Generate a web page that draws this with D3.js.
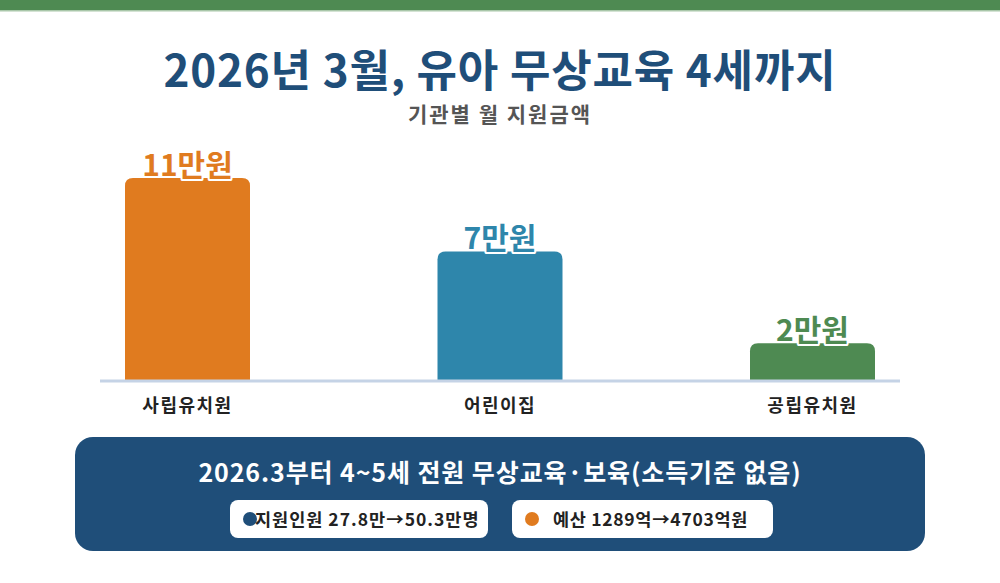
<!DOCTYPE html>
<html>
<head>
<meta charset="utf-8">
<script src="https://cdn.jsdelivr.net/npm/d3@7"></script>
<style>
  body { margin: 0; background: #fff; }
  svg { display: block; font-family: "Noto Sans CJK KR", "Noto Sans", sans-serif; }
</style>
</head>
<body>
<script>
// chart data
var categories = ['사립유치원', '어린이집', '공립유치원'];
var values = [11, 7, 2];
var valueLabels = ['11만원', '7만원', '2만원'];
var barColors = ['#e07b1f', '#2e86ab', '#4e8a52'];

var title = '2026년 3월, 유아 무상교육 4세까지';
var subtitle = '기관별 월 지원금액';
var noteTitle = '2026.3부터 4~5세 전원 무상교육·보육(소득기준 없음)';
var notePills = ['지원인원 27.8만→50.3만명', '예산 1289억→4703억원'];
var pillDots = ['#1f4e79', '#e07b1f'];

var width = 1000, height = 583;
var navy = '#1f4e79';

var svg = d3.select('body').append('svg')
    .attr('width', width)
    .attr('height', height);

// top strip
svg.append('rect').attr('x', 0).attr('y', 0).attr('width', width).attr('height', 10).attr('fill', '#4e8a52');
svg.append('rect').attr('x', 0).attr('y', 10).attr('width', width).attr('height', 1.5).attr('fill', '#a9c7aa');

svg.append('text')
    .attr('x', width/2).attr('y', 87)
    .attr('text-anchor', 'middle')
    .attr('font-size', 44).attr('font-weight', 700)
    .attr('letter-spacing', 0.8)
    .attr('fill', navy)
    .text(title);

svg.append('text')
    .attr('x', width/2).attr('y', 122)
    .attr('text-anchor', 'middle')
    .attr('font-size', 21).attr('font-weight', 700)
    .attr('letter-spacing', 2)
    .attr('fill', '#555')
    .text(subtitle);

var x = d3.scaleBand()
    .domain(categories)
    .range([125, 875])
    .paddingInner(0.6)
    .paddingOuter(0);

var y = d3.scaleLinear()
    .domain([0, 11])
    .range([380, 178]);

var bars = svg.append('g');
bars.selectAll('path')
    .data(values)
    .enter().append('path')
    .attr('fill', function(d, i){ return barColors[i]; })
    .attr('d', function(d, i){
        var x0 = x(categories[i]), w = x.bandwidth(), y0 = y(d), y1 = y(0), r = 8;
        return 'M' + x0 + ',' + (y1) +
            'L' + x0 + ',' + (y0 + r) +
            'Q' + x0 + ',' + y0 + ' ' + (x0 + r) + ',' + y0 +
            'L' + (x0 + w - r) + ',' + y0 +
            'Q' + (x0 + w) + ',' + y0 + ' ' + (x0 + w) + ',' + (y0 + r) +
            'L' + (x0 + w) + ',' + y1 + 'Z';
    });

// baseline
svg.append('line')
    .attr('x1', 100).attr('x2', 900)
    .attr('y1', y(0) + 1).attr('y2', y(0) + 1)
    .attr('stroke', '#c5d3e6').attr('stroke-width', 3);

// value labels with white halo
bars.selectAll('text.val')
    .data(values)
    .enter().append('text')
    .attr('class', 'val')
    .attr('x', function(d, i){ return x(categories[i]) + x.bandwidth()/2; })
    .attr('y', function(d){ return y(d) - 2; })
    .attr('text-anchor', 'middle')
    .attr('font-size', 30).attr('font-weight', 700)
    .attr('fill', function(d, i){ return barColors[i]; })
    .attr('stroke', '#fff').attr('stroke-width', 4)
    .attr('paint-order', 'stroke')
    .attr('stroke-linejoin', 'round')
    .text(function(d, i){ return valueLabels[i]; });

var xAxis = svg.append('g')
    .attr('transform', 'translate(0,' + (y(0) + 2) + ')')
    .call(d3.axisBottom(x).tickSize(0).tickPadding(17));
xAxis.select('.domain').remove();
xAxis.selectAll('text')
    .attr('font-size', 18).attr('font-weight', 700)
    .attr('letter-spacing', 1.5)
    .attr('fill', '#222')
    .attr('font-family', '"Noto Sans CJK KR", sans-serif');

// note panel
svg.append('rect')
    .attr('x', 75).attr('y', 437)
    .attr('width', 850).attr('height', 114)
    .attr('rx', 18)
    .attr('fill', navy);

svg.append('text')
    .attr('x', width/2).attr('y', 482)
    .attr('text-anchor', 'middle')
    .attr('font-size', 25).attr('font-weight', 700)
    .attr('letter-spacing', 0.9)
    .attr('fill', '#fff')
    .text(noteTitle);

var pillX = [230, 512], pillW = [258, 261];
var pills = svg.selectAll('g.pill')
    .data(notePills)
    .enter().append('g')
    .attr('class', 'pill')
    .attr('transform', function(d, i){ return 'translate(' + pillX[i] + ',500)'; });

pills.append('rect')
    .attr('width', function(d, i){ return pillW[i]; })
    .attr('height', 38)
    .attr('rx', 8)
    .attr('fill', '#fff');

pills.append('circle')
    .attr('cx', 20).attr('cy', 19).attr('r', 7)
    .attr('fill', function(d, i){ return pillDots[i]; });

pills.append('text')
    .attr('x', function(d, i){ return i === 0 ? 25 : 41; })
    .attr('y', 25.5)
    .attr('font-size', 17.5).attr('font-weight', 700)
    .attr('letter-spacing', function(d, i){ return i === 0 ? 1 : 0.7; })
    .attr('fill', '#222')
    .text(function(d){ return d; });
</script>
</body>
</html>
